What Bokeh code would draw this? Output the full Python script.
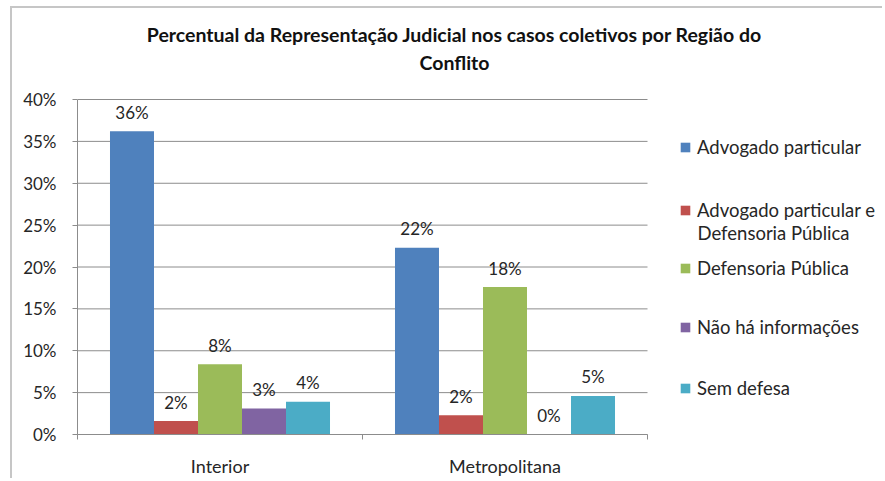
from bokeh.plotting import figure
from bokeh.models import (Range1d, ColumnDataSource, LabelSet, Label,
                          Legend, LegendItem, FixedTicker, NumeralTickFormatter)
from bokeh.core.properties import value
from bokeh.transform import dodge
from bokeh.embed import file_html
from bokeh.resources import INLINE

# ---- data ----
categories = ["Interior", "Metropolitana"]
series_names = ["Advogado particular",
                "Advogado particular e\nDefensoria Pública",
                "Defensoria Pública",
                "Não há informações",
                "Sem defesa"]
advogado_particular = [0.362, 0.223]
advogado_e_defensoria = [0.016, 0.023]
defensoria_publica = [0.084, 0.176]
nao_ha_informacoes = [0.031, 0.0]
sem_defesa = [0.039, 0.046]
y_ticks = [0.0, 0.05, 0.10, 0.15, 0.20, 0.25, 0.30, 0.35, 0.40]
title_lines = ["Percentual da Representação Judicial nos casos coletivos por Região do",
               "Conflito"]

series_values = [advogado_particular, advogado_e_defensoria, defensoria_publica,
                 nao_ha_informacoes, sem_defesa]
colors = ["#4F81BD", "#C0504D", "#9BBB59", "#8064A2", "#4BACC6"]

FONT = "Lato"
TXT = "#262626"
GRID = "#8c8c8c"

# layout (page pixels)
OX, OY = 12, 8                 # canvas origin on the page (margin + border)
W, H = 872, 472
frame_left_pg, frame_bottom_pg = 77, 434
cat_px = 285
y_top_pg = 99

frame_left = frame_left_pg - OX
frame_bottom = frame_bottom_pg - OY
frame_w = W - frame_left
frame_h = frame_bottom
n_cat = len(categories)
y_max = y_ticks[-1]
x_end = frame_w / cat_px
y_end = y_max * frame_h / (frame_bottom_pg - y_top_pg)

p = figure(x_range=Range1d(0, x_end), y_range=Range1d(0, y_end),
           width=W, height=H, output_backend="svg", toolbar_location=None,
           min_border_left=frame_left, min_border_right=0, min_border_top=0,
           min_border_bottom=H - frame_bottom)
p.margin = (6, 0, 0, 10)
p.styles = {"border-left": "2px solid #c6c6c6", "border-top": "2px solid #c6c6c6"}
p.outline_line_color = None
p.background_fill_color = "white"
p.border_fill_color = "white"
p.xgrid.visible = False
p.ygrid.visible = False

cat_pos = [i + 0.5 for i in range(n_cat)]

# gridlines limited to the category area
p.segment(x0=[0] * len(y_ticks), x1=[n_cat] * len(y_ticks), y0=y_ticks, y1=y_ticks,
          line_color=GRID, line_width=1)

bar_w = 0.1544
renderers = []
for i, (name, vals, col) in enumerate(zip(series_names, series_values, colors)):
    src = ColumnDataSource(dict(x=cat_pos, val=vals,
                                lab=[f"{round(v * 100)}%" for v in vals]))
    off = (i - 2) * bar_w
    r = p.vbar(x=dodge("x", off), top="val", width=bar_w,
               source=src, fill_color=col, line_color=None)
    renderers.append(r)
    p.add_layout(LabelSet(x=dodge("x", off), y="val", text="lab", source=src,
                          text_align="center", text_baseline="middle",
                          y_offset=19, text_font=value(FONT),
                          text_font_size="17px", text_color=TXT))

# y axis
p.yaxis.bounds = (0, y_max)
p.yaxis.ticker = FixedTicker(ticks=y_ticks)
p.yaxis.formatter = NumeralTickFormatter(format="0%")
p.yaxis.major_label_text_font = FONT
p.yaxis.major_label_text_font_size = "17px"
p.yaxis.major_label_text_color = TXT
p.yaxis.axis_line_color = GRID
p.yaxis.major_tick_line_color = GRID
p.yaxis.major_tick_out = 5
p.yaxis.major_tick_in = 0
p.yaxis.minor_tick_line_color = None
p.yaxis.major_label_standoff = 16

# x axis
p.xaxis.bounds = (0, n_cat)
p.xaxis.ticker = FixedTicker(ticks=cat_pos, minor_ticks=list(range(n_cat + 1)))
p.xaxis.major_label_overrides = {c: lab for c, lab in zip(cat_pos, categories)}
p.xaxis.major_label_text_font = FONT
p.xaxis.major_label_text_font_size = "18px"
p.xaxis.major_label_text_color = TXT
p.xaxis.axis_line_color = GRID
p.xaxis.major_tick_line_color = None
p.xaxis.major_tick_out = 0
p.xaxis.major_tick_in = 0
p.xaxis.minor_tick_line_color = GRID
p.xaxis.minor_tick_out = 5
p.xaxis.minor_tick_in = 0
p.xaxis.major_label_standoff = 15

# title (screen units, relative to the frame)
for line, cy in zip(title_lines, [34, 62]):
    p.add_layout(Label(x=454 - frame_left_pg, y=frame_bottom_pg - cy,
                       x_units="screen", y_units="screen", text=line,
                       text_align="center", text_baseline="middle",
                       text_font=FONT, text_font_style="bold",
                       text_font_size="19.5px", text_color="#111111"))

# legend (one per item for exact placement); wrapped names continue as labels
leg_center = [147, 210, 268, 327, 388]
leg_x, glyph, standoff, item_h, line_h = 679, 12, 6, 22, 22
for name, r, c in zip(series_names, renderers, leg_center):
    lines = name.split("\n")
    lg = Legend(items=[LegendItem(label=lines[0], renderers=[r])],
                location=(leg_x - frame_left_pg, frame_bottom_pg - c - item_h / 2),
                padding=0, margin=0, spacing=0, border_line_color=None,
                background_fill_alpha=0, glyph_width=glyph, glyph_height=glyph,
                label_standoff=standoff, label_text_font=FONT,
                label_text_font_size="18.5px", label_text_color=TXT)
    p.add_layout(lg)
    for k, extra in enumerate(lines[1:], start=1):
        p.add_layout(Label(x=leg_x + glyph + standoff - frame_left_pg,
                           y=frame_bottom_pg - c - k * line_h,
                           x_units="screen", y_units="screen", text=extra,
                           text_align="left", text_baseline="middle",
                           text_font=FONT, text_font_size="18.5px",
                           text_color=TXT))

open("out.html", "w").write(file_html(p, INLINE))
